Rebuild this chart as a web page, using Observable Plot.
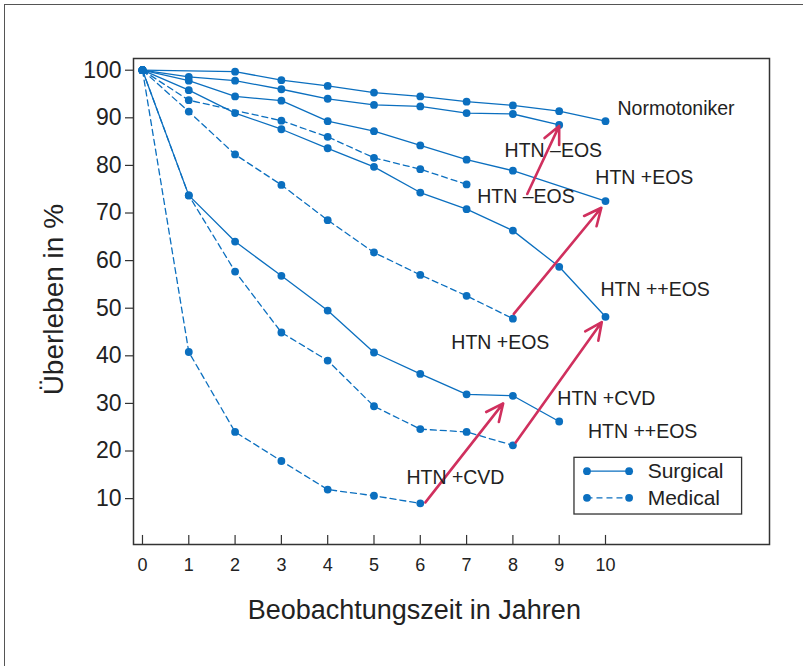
<!DOCTYPE html>
<html>
<head>
<meta charset="utf-8">
<script src="https://cdn.jsdelivr.net/npm/d3@7"></script>
<script src="https://cdn.jsdelivr.net/npm/@observablehq/plot@0.6"></script>
<style>
  html, body { margin: 0; padding: 0; background: #fff; }
  #wrap { position: relative; width: 803px; height: 666px; overflow: hidden; }
  #border { position: absolute; left: 4px; top: 4px; width: 820px; height: 700px;
            border-left: 1.5px solid #555; border-top: 1.5px solid #555; pointer-events: none; }
  #chart { position: absolute; left: 0; top: 0; }
</style>
</head>
<body>
<div id="wrap"><div id="chart"></div><div id="border"></div></div>
<script>
// ---- data ----
const seriesNames = [
  "Normotoniker (Surgical)", "HTN −EOS (Surgical)", "HTN +EOS (Surgical)", "HTN ++EOS (Surgical)", "HTN +CVD (Surgical)",
  "HTN −EOS (Medical)", "HTN +EOS (Medical)", "HTN ++EOS (Medical)", "HTN +CVD (Medical)"
];
const seriesType = ["Surgical","Surgical","Surgical","Surgical","Surgical","Medical","Medical","Medical","Medical"];
const seriesYears = [
  [0,2,3,4,5,6,7,8,9,10],
  [0,1,2,3,4,5,6,7,8,9],
  [0,1,2,3,4,5,6,7,8,10],
  [0,1,2,3,4,5,6,7,8,9,10],
  [0,1,2,3,4,5,6,7,8,9],
  [0,1,3,4,5,6,7],
  [0,1,2,3,4,5,6,7,8],
  [0,1,2,3,4,5,6,7,8],
  [0,1,2,3,4,5,6]
];
const seriesValues = [
  [100, 99.7, 97.9, 96.7, 95.3, 94.5, 93.4, 92.6, 91.4, 89.3],
  [100, 98.6, 97.8, 96.0, 94.0, 92.7, 92.4, 91.0, 90.8, 88.5],
  [100, 97.8, 94.5, 93.6, 89.3, 87.2, 84.2, 81.2, 78.9, 72.5],
  [100, 95.8, 91.0, 87.6, 83.6, 79.7, 74.3, 70.8, 66.3, 58.7, 48.2],
  [100, 73.7, 64.0, 56.8, 49.5, 40.7, 36.2, 31.9, 31.6, 26.2],
  [100, 93.7, 89.4, 86.0, 81.6, 79.2, 76.0],
  [100, 91.3, 82.3, 75.9, 68.5, 61.7, 57.0, 52.6, 47.8],
  [100, 73.7, 57.7, 44.9, 39.0, 29.4, 24.6, 24.0, 21.2],
  [100, 40.8, 24.0, 17.9, 11.9, 10.6, 9.0]
];
const xTicks = [0,1,2,3,4,5,6,7,8,9,10];
const yTicks = [10,20,30,40,50,60,70,80,90,100];

// annotation labels (data units)
const labelTexts = ["Normotoniker","HTN –EOS","HTN –EOS","HTN +EOS","HTN +EOS","HTN ++EOS","HTN +CVD","HTN ++EOS","HTN +CVD"];
const labelX = [10.26, 7.82, 7.23, 9.78, 6.67, 9.89, 8.96, 9.62, 5.70];
const labelY = [91.96, 82.98, 73.32, 77.46, 42.65, 53.93, 30.97, 23.95, 14.37];

// arrows medical -> surgical (data units)
const arrowX1 = [8.31, 8.02, 8.06, 6.11];
const arrowY1 = [74.0, 48.8, 21.8, 9.2];
const arrowX2 = [9.00, 9.91, 9.92, 7.79];
const arrowY2 = [88.3, 71.1, 47.1, 30.0];

// legend
const legendLabels = ["Surgical", "Medical"];
const legendY = [15.76, 10.17];
const legendBox = {x1: 9.33, x2: 12.95, y1: 6.66, y2: 18.57};
const legendLineX = [9.60, 10.51];
const legendTextX = 10.91;

const xTitle = "Beobachtungszeit in Jahren";
const yTitle = "Überleben in %";

// ---- build ----
const blue = "#0b6fbf";
const red = "#d0305e";
const rows = seriesNames.flatMap((name, i) =>
  seriesYears[i].map((yr, j) => ({series: name, type: seriesType[i], year: yr, value: seriesValues[i][j]})));
const labels = labelTexts.map((t, i) => ({t, x: labelX[i], y: labelY[i]}));
const arrows = arrowX1.map((_, i) => ({x1: arrowX1[i], y1: arrowY1[i], x2: arrowX2[i], y2: arrowY2[i]}));
const legendRows = legendLabels.map((l, i) => ({label: l, y: legendY[i], dashed: l === "Medical"}));
const legendDots = legendRows.flatMap(r => legendLineX.map(x => ({x, y: r.y})));

const yMin = 0.36, yMax = 102.46;
const font = "'Liberation Sans', Arial, Helvetica, sans-serif";

const chart = Plot.plot({
  width: 803,
  height: 666,
  marginLeft: 133,
  marginRight: 34,
  marginTop: 58,
  marginBottom: 122,
  style: {fontFamily: font, color: "#333", background: "transparent", overflow: "visible"},
  x: {domain: [-0.194, 13.542]},
  y: {domain: [yMin, yMax]},
  marks: [
    Plot.line(rows.filter(d => d.type === "Medical"), {x: "year", y: "value", z: "series", stroke: blue, strokeWidth: 1.3, strokeDasharray: "6,4"}),
    Plot.line(rows.filter(d => d.type === "Surgical"), {x: "year", y: "value", z: "series", stroke: blue, strokeWidth: 1.3}),
    Plot.dot(rows, {x: "year", y: "value", r: 3.9, fill: blue}),
    Plot.arrow(arrows, {x1: "x1", y1: "y1", x2: "x2", y2: "y2", stroke: red, strokeWidth: 2.6, headLength: 11, headAngle: 50}),
    Plot.text(labels, {x: "x", y: "y", text: "t", textAnchor: "start", lineAnchor: "middle", fontSize: 19.5, fill: "#222"}),
    // legend
    Plot.rect([legendBox], {x1: "x1", x2: "x2", y1: "y1", y2: "y2", fill: "white", stroke: "#333", strokeWidth: 1.3}),
    Plot.ruleY(legendRows.filter(d => !d.dashed), {y: "y", x1: legendLineX[0], x2: legendLineX[1], stroke: blue, strokeWidth: 1.3}),
    Plot.ruleY(legendRows.filter(d => d.dashed), {y: "y", x1: legendLineX[0], x2: legendLineX[1], stroke: blue, strokeWidth: 1.3, strokeDasharray: "6,4"}),
    Plot.dot(legendDots, {x: "x", y: "y", r: 3.9, fill: blue}),
    Plot.text(legendRows, {x: legendTextX, y: "y", text: "label", textAnchor: "start", lineAnchor: "middle", fontSize: 21, fill: "#222"}),
    // axes
    Plot.ruleX(xTicks, {x: d => d, y1: yMin, y2: yMin + 1.9, stroke: "#333", strokeWidth: 1.2}),
    Plot.axisX(xTicks, {tickSize: 0, tickPadding: 14, fontSize: 18, label: null, fill: "#222"}),
    Plot.axisY(yTicks, {tickSize: 8, tickPadding: 4, fontSize: 23, label: null, fill: "#222", strokeWidth: 1.2}),
    Plot.frame({stroke: "#333", strokeWidth: 1.5}),
    // titles
    Plot.text([xTitle], {x: 5.87, y: -15.2, text: d => d, textAnchor: "middle", lineAnchor: "bottom", fontSize: 27, fill: "#222"}),
    Plot.text([yTitle], {x: -1.92, y: 51.8, text: d => d, textAnchor: "middle", lineAnchor: "middle", rotate: -90, fontSize: 28, fill: "#222"})
  ]
});
document.getElementById("chart").appendChild(chart);
</script>
</body>
</html>
